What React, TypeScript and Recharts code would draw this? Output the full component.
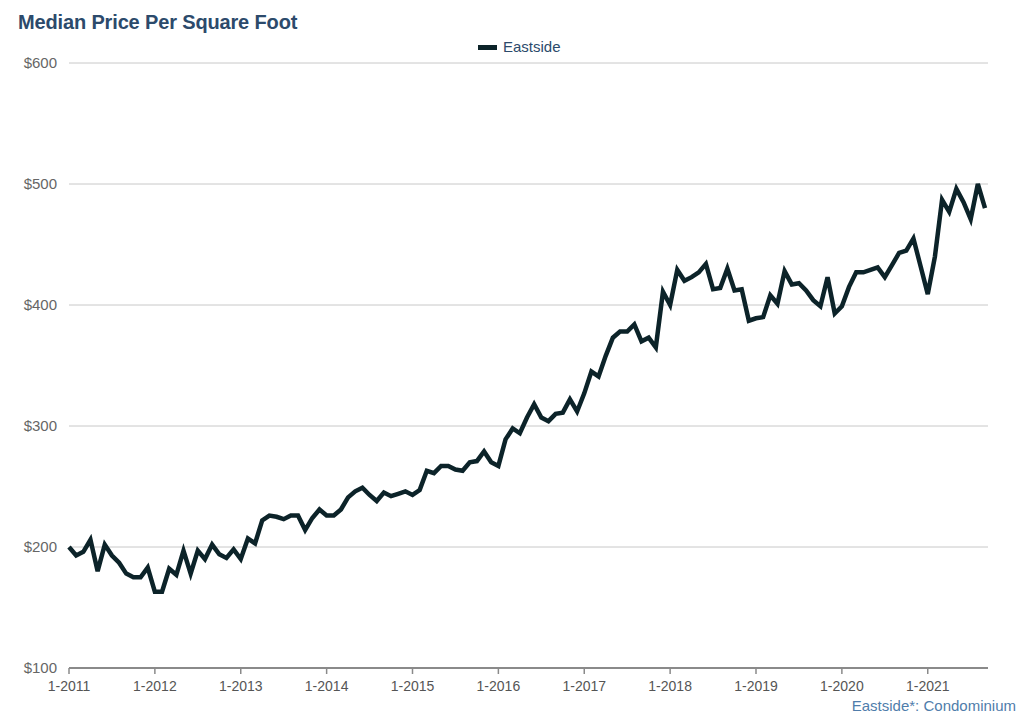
import { LineChart, Line, XAxis, YAxis, CartesianGrid } from "recharts";

const TITLE = "Median Price Per Square Foot";
const SERIES_NAME = "Eastside";
const FOOTNOTE = "Eastside*: Condominium";

const YEARS = [2011, 2012, 2013, 2014, 2015, 2016, 2017, 2018, 2019, 2020, 2021];

// monthly median $/sqft, Jan..Dec
const P2011 = [200, 193, 196, 206, 180, 202, 193, 187, 178, 175, 175, 183];
const P2012 = [163, 163, 182, 177, 197, 178, 197, 190, 202, 194, 191, 198];
const P2013 = [190, 207, 203, 222, 226, 225, 223, 226, 226, 214, 224, 231];
const P2014 = [226, 226, 231, 241, 246, 249, 243, 238, 245, 242, 244, 246];
const P2015 = [243, 247, 263, 261, 267, 267, 264, 263, 270, 271, 279, 270];
const P2016 = [267, 289, 298, 294, 307, 318, 307, 304, 310, 311, 322, 312];
const P2017 = [327, 345, 341, 358, 373, 378, 378, 384, 370, 373, 365, 411];
const P2018 = [400, 429, 420, 423, 427, 434, 413, 414, 430, 412, 413, 387];
const P2019 = [389, 390, 408, 401, 428, 417, 418, 412, 404, 399, 423, 393];
const P2020 = [399, 415, 427, 427, 429, 431, 423, 433, 443, 445, 455, 432];
const P2021 = [409, 440, 487, 477, 496, 485, 471, 500, 480];

const BY_YEAR = [P2011, P2012, P2013, P2014, P2015, P2016, P2017, P2018, P2019, P2020, P2021];
const Y_TICKS = [100, 200, 300, 400, 500, 600];

const LINE = "#0c2329";
const FONT = 'Arial, "Liberation Sans", Helvetica, sans-serif';

const data = BY_YEAR.flatMap((vals, yi) =>
  vals.map((v, m) => ({ month: `${m + 1}-${YEARS[yi]}`, value: v }))
);

export default function App() {
  return (
    <div
      style={{
        position: "absolute", left: 0, top: 0, width: 1024, height: 719,
        background: "#fff", fontFamily: FONT,
      }}
    >
      <div
        style={{
          position: "absolute", left: 18, top: 11, fontSize: 20, fontWeight: 700,
          letterSpacing: -0.15, color: "#2c4a6b",
        }}
      >
        {TITLE}
      </div>

      {/* legend */}
      <div style={{ position: "absolute", left: 478, top: 45, width: 19, height: 5, background: LINE }} />
      <div style={{ position: "absolute", left: 503, top: 38, fontSize: 15, color: "#2c4a6b" }}>
        {SERIES_NAME}
      </div>

      <LineChart
        width={1024}
        height={719}
        data={data}
        margin={{ top: 63, right: 36, bottom: 0, left: 0 }}
        style={{ position: "absolute", left: 0, top: 0 }}
      >
        <CartesianGrid vertical={false} stroke="#c8c8c8" strokeWidth={1} />
        <XAxis
          dataKey="month"
          interval={11}
          height={51}
          padding={{ left: 0, right: 3 }}
          axisLine={{ stroke: "#8a8a8a", strokeWidth: 2 }}
          tickLine={{ stroke: "#8a8a8a", strokeWidth: 1.5 }}
          tickSize={6}
          tickMargin={7}
          tick={{ fontSize: 14, fill: "#555", fontFamily: FONT }}
        />
        <YAxis
          type="number"
          domain={[100, 600]}
          ticks={Y_TICKS}
          width={69}
          axisLine={false}
          tickLine={false}
          tickMargin={6}
          tickFormatter={(v: number) => `$${v}`}
          tick={{ fontSize: 15, fill: "#666", fontFamily: FONT }}
        />
        <Line
          type="linear"
          dataKey="value"
          stroke={LINE}
          strokeWidth={4.5}
          strokeLinejoin="miter"
          dot={false}
          activeDot={false}
          isAnimationActive={false}
        />
      </LineChart>

      <div
        style={{
          position: "absolute", right: 8, top: 697, fontSize: 15, color: "#4f7dab",
        }}
      >
        {FOOTNOTE}
      </div>
    </div>
  );
}
